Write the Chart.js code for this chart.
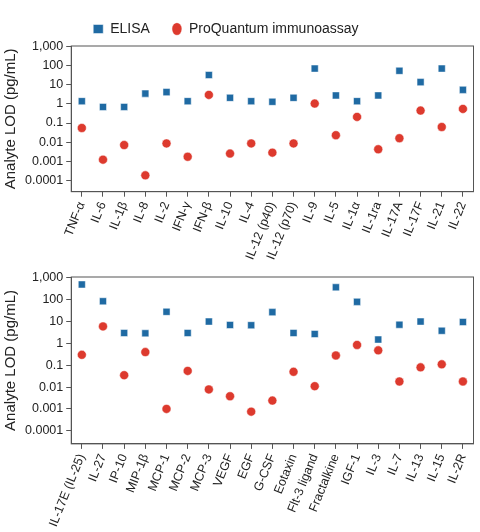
<!DOCTYPE html>
<html>
<head>
<meta charset="utf-8">
<script src="https://cdn.jsdelivr.net/npm/chart.js@4.4.1/dist/chart.umd.min.js"></script>
<style>
  body { margin: 0; background: #fff; }
  .box { position: relative; width: 480px; }
</style>
</head>
<body>
<div class="box" style="height:265px"><canvas id="topChart"></canvas></div>
<div class="box" style="height:267px"><canvas id="bottomChart"></canvas></div>
<script>
// Panel atas
const topLabels = ["TNF-α", "IL-6", "IL-1β", "IL-8", "IL-2", "IFN-γ", "IFN-β", "IL-10", "IL-4", "IL-12 (p40)", "IL-12 (p70)", "IL-9", "IL-5", "IL-1α", "IL-1ra", "IL-17A", "IL-17F", "IL-21", "IL-22"];
const topElisa = [1.4, 0.7, 0.7, 3.5, 4.2, 1.4, 33, 2.1, 1.4, 1.3, 2.1, 72, 2.8, 1.4, 2.8, 55, 14, 72, 5.5];
const topPQ = [0.055, 0.0012, 0.007, 0.00018, 0.0085, 0.0017, 3.0, 0.0025, 0.0085, 0.0028, 0.0085, 1.05, 0.023, 0.21, 0.0042, 0.016, 0.45, 0.062, 0.55];

// Panel bawah
const botLabels = ["IL-17E (IL-25)", "IL-27", "IP-10", "MIP-1β", "MCP-1", "MCP-2", "MCP-3", "VEGF", "EGF", "G-CSF", "Eotaxin", "Flt-3 ligand", "Fractalkine", "IGF-1", "IL-3", "IL-7", "IL-13", "IL-15", "IL-2R"];
const botElisa = [500, 85, 3.0, 2.9, 28, 3.0, 10, 7.0, 6.8, 27, 3.0, 2.7, 370, 80, 1.5, 7.2, 10, 3.8, 9.5];
const botPQ = [0.3, 6.0, 0.035, 0.4, 0.001, 0.055, 0.0078, 0.0038, 0.00075, 0.0024, 0.05, 0.011, 0.28, 0.85, 0.48, 0.018, 0.08, 0.11, 0.018];

const yTicks = [0.0001, 0.001, 0.01, 0.1, 1, 10, 100, 1000];
const blue = "#1f6aa3";
const red = "#dd3a2e";
const font = "Liberation Sans, Arial, sans-serif";

// Bingkai kotak di sekitar area plot
const frame = {
  id: "frame",
  afterDraw(chart) {
    const a = chart.chartArea, c = chart.ctx;
    c.save();
    c.strokeStyle = "#555";
    c.lineWidth = 1;
    c.strokeRect(a.left, a.top, a.right - a.left, a.bottom - a.top);
    c.restore();
  }
};

function makeChart(id, labels, elisa, pq, showLegend, pad) {
  new Chart(document.getElementById(id), {
    type: "line",
    data: {
      labels: labels,
      datasets: [
        { label: "ELISA", data: elisa, showLine: false, pointStyle: "rect",
          pointRadius: 5, pointHoverRadius: 5, backgroundColor: blue, borderColor: "#fff", borderWidth: 0.5 },
        { label: "ProQuantum immunoassay", data: pq, showLine: false, pointStyle: "circle",
          pointRadius: 4.5, pointHoverRadius: 4.5, backgroundColor: red, borderColor: "#fff", borderWidth: 0.5 }
      ]
    },
    options: {
      animation: false,
      responsive: true,
      maintainAspectRatio: false,
      layout: { padding: pad },
      plugins: {
        legend: {
          display: showLegend, position: "top", align: "start", fullSize: false,
          labels: { usePointStyle: true, pointStyleWidth: 10, boxHeight: 9, padding: 22,
            font: { family: font, size: 14 }, color: "#222" }
        },
        tooltip: { enabled: false }
      },
      scales: {
        x: {
          offset: true,
          grid: { drawOnChartArea: false, tickLength: 5, color: "#555" },
          border: { color: "#555" },
          ticks: { autoSkip: false, maxRotation: 68, minRotation: 68, color: "#222",
            font: { family: font, size: 12.5 } }
        },
        y: {
          type: "logarithmic", min: 0.000025, max: 1100,
          afterBuildTicks: (s) => { s.ticks = yTicks.map(v => ({ value: v })); },
          grid: { drawOnChartArea: false, tickLength: 5, color: "#555" },
          border: { color: "#555" },
          title: { display: true, text: "Analyte LOD (pg/mL)", color: "#222",
            font: { family: font, size: 15 }, padding: 2 },
          ticks: { color: "#222", font: { family: font, size: 12.5 },
            callback: (v) => v >= 1000 ? "1,000" : String(v) }
        }
      }
    },
    plugins: [frame]
  });
}

makeChart("topChart", topLabels, topElisa, topPQ, true, { left: 0, right: 2, top: 0, bottom: 0 });
makeChart("bottomChart", botLabels, botElisa, botPQ, false, { left: 0, right: 2, top: 12, bottom: 0 });
</script>
</body>
</html>
